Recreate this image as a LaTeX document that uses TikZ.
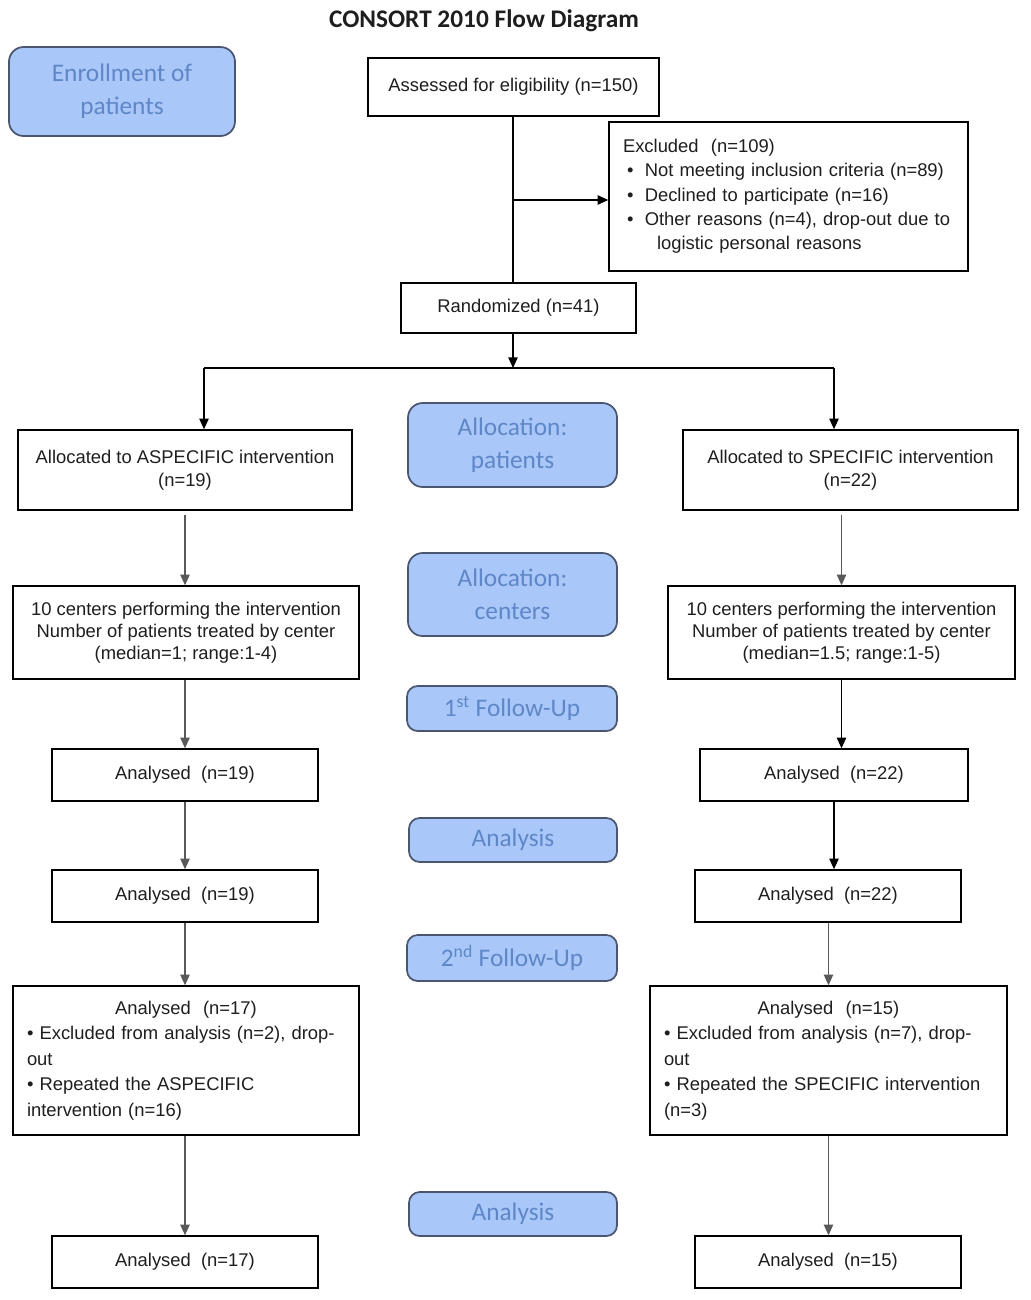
\documentclass[tikz,border=0pt]{standalone}
\usepackage{fontspec}
\setmainfont{Liberation Sans}
\newfontfamily\calfont{Carlito}
\usetikzlibrary{arrows.meta}
\definecolor{phasefill}{HTML}{A9C8F9}
\definecolor{phasetext}{HTML}{5F86C6}
\definecolor{phasedraw}{HTML}{4A5670}
\definecolor{txt}{HTML}{1E1E1E}
\begin{document}
\begin{tikzpicture}[x=0.75pt,y=-0.75pt,
  sz/.style 2 args={minimum width=#1*0.75pt, minimum height=#2*0.75pt},
  box/.style={draw=black, line width=1.1pt, fill=white, inner sep=0pt, align=center, text=txt,
              font=\fontsize{13.8}{17.3}\selectfont},
  phase/.style={draw=phasedraw, line width=1.3pt, fill=phasefill, rounded corners=8pt, inner sep=0pt,
              align=center, text=phasetext, font=\calfont\fontsize{19}{25}\selectfont},
  arr/.style={-{Triangle[length=8pt,width=7pt]}, line width=1.2pt, draw=black},
  garr/.style={-{Triangle[length=8pt,width=7pt]}, line width=1pt, draw=black!65, fill=black!80},
  link/.style={line width=1.3pt, draw=black}
]
\useasboundingbox (0,0) rectangle (1031,1300);
\fill[white] (0,0) rectangle (1031,1300);

% title
\node[font=\calfont\bfseries\fontsize{19}{23}\selectfont, text=txt] (title) at (484,21) {CONSORT 2010 Flow Diagram};

% phase boxes
\node[phase, sz={226}{89}, rounded corners=11pt, font=\calfont\fontsize{19}{24.75}\selectfont] (enr) at (122,91.5) {Enrollment of\\patients};
\node[phase, sz={209}{84}, rounded corners=11pt] (allocp) at (512.5,445) {Allocation:\\patients};
\node[phase, sz={209}{83}, rounded corners=11pt] (allocc) at (512.5,594.5) {Allocation:\\centers};
\node[phase, sz={210}{45}] (fu1) at (512,708.5) {1\textsuperscript{st} Follow-Up};
\node[phase, sz={208}{44}] (ana1) at (513,840) {Analysis};
\node[phase, sz={210}{46}] (fu2) at (512,958) {2\textsuperscript{nd} Follow-Up};
\node[phase, sz={208}{44}] (ana2) at (513,1214) {Analysis};

% top part
\node[box, sz={291}{58}] (assess) at (513.5,87) {Assessed for eligibility (n=150)};
\node[box, sz={359}{149}, text width=248.25pt, align=left, font=\fontsize{13.8}{18.2}\selectfont] (excl) at (788.5,196.5)
 {Excluded\ \ (n=109)\\
  \hspace*{3pt}\textbullet\hspace{8.5pt}Not meeting inclusion criteria (n=89)\\
  \hspace*{3pt}\textbullet\hspace{8.5pt}Declined to participate (n=16)\\
  \hspace*{3pt}\textbullet\hspace{8.5pt}Other reasons (n=4), drop-out due to\\
  \hspace*{25.5pt}logistic personal reasons};
\node[box, sz={235}{50}] (rand) at (518.5,308) {Randomized (n=41)};

% allocation
\node[box, sz={334}{80}] (alA) at (185,470) {Allocated to ASPECIFIC intervention\\(n=19)};
\node[box, sz={335}{80}] (alS) at (850.5,470) {Allocated to SPECIFIC intervention\\(n=22)};

\node[box, sz={346}{93}, font=\fontsize{13.8}{16.5}\selectfont] (cenA) at (186,632.5)
 {10 centers performing the intervention\\Number of patients treated by center\\(median=1; range:1-4)};
\node[box, sz={347}{93}, font=\fontsize{13.8}{16.5}\selectfont] (cenS) at (841.5,632.5)
 {10 centers performing the intervention\\Number of patients treated by center\\(median=1.5; range:1-5)};

\node[box, sz={266}{52}] (an1A) at (185,775) {Analysed\ \ (n=19)};
\node[box, sz={268}{52}] (an1S) at (834,775) {Analysed\ \ (n=22)};
\node[box, sz={266}{52}] (an2A) at (185,896) {Analysed\ \ (n=19)};
\node[box, sz={266}{52}] (an2S) at (828,896) {Analysed\ \ (n=22)};

\node[box, sz={346}{149}, text width=238.5pt, align=left, font=\fontsize{13.8}{19.1}\selectfont] (bigA) at (186,1060.5)
 {\makebox[238.5pt][c]{Analysed\ \ (n=17)}\\
  \textbullet\ Excluded from analysis (n=2), drop-\\
  out\\
  \textbullet\ Repeated the ASPECIFIC\\
  intervention (n=16)};
\node[box, sz={357}{149}, text width=246.75pt, align=left, font=\fontsize{13.8}{19.1}\selectfont] (bigS) at (828.5,1060.5)
 {\makebox[246.75pt][c]{Analysed\ \ (n=15)}\\
  \textbullet\ Excluded from analysis (n=7), drop-\\
  out\\
  \textbullet\ Repeated the SPECIFIC intervention\\
  (n=3)};

\node[box, sz={266}{52}] (an3A) at (185,1262) {Analysed\ \ (n=17)};
\node[box, sz={266}{52}] (an3S) at (828,1262) {Analysed\ \ (n=15)};

% connectors top
\coordinate (bx) at (513,200);
\coordinate (jm) at (513,368);
\coordinate (jl) at (204,368);
\coordinate (jr) at (834,368);
\draw[link] (assess.south -| bx) -- (rand.north -| bx);
\draw[arr] (bx) -- (bx -| excl.west);
\draw[arr] (rand.south -| jm) -- (jm);
\draw[link] (jl) -- (jr);
\draw[arr] (jl) -- (jl |- alA.north);
\draw[arr] (jr) -- (jr |- alS.north);

% columns
\draw[garr, shorten <=3pt] (alA.south) -- (alA.south |- cenA.north);
\draw[garr, shorten <=3pt] (cenS.north |- alS.south) -- (cenS.north);
\draw[garr] (an1A.north |- cenA.south) -- (an1A.north);
\draw[arr] (cenS.south) -- (cenS.south |- an1S.north);
\draw[garr] (an1A.south) -- (an2A.north);
\draw[arr] (an1S.south) -- (an1S.south |- an2S.north);
\draw[garr] (an2A.south) -- (an2A.south |- bigA.north);
\draw[garr] (an2S.south -| bigS.north) -- (bigS.north);
\draw[garr] (bigA.south -| an3A.north) -- (an3A.north);
\draw[garr] (bigS.south) -- (bigS.south |- an3S.north);
\end{tikzpicture}
\end{document}
